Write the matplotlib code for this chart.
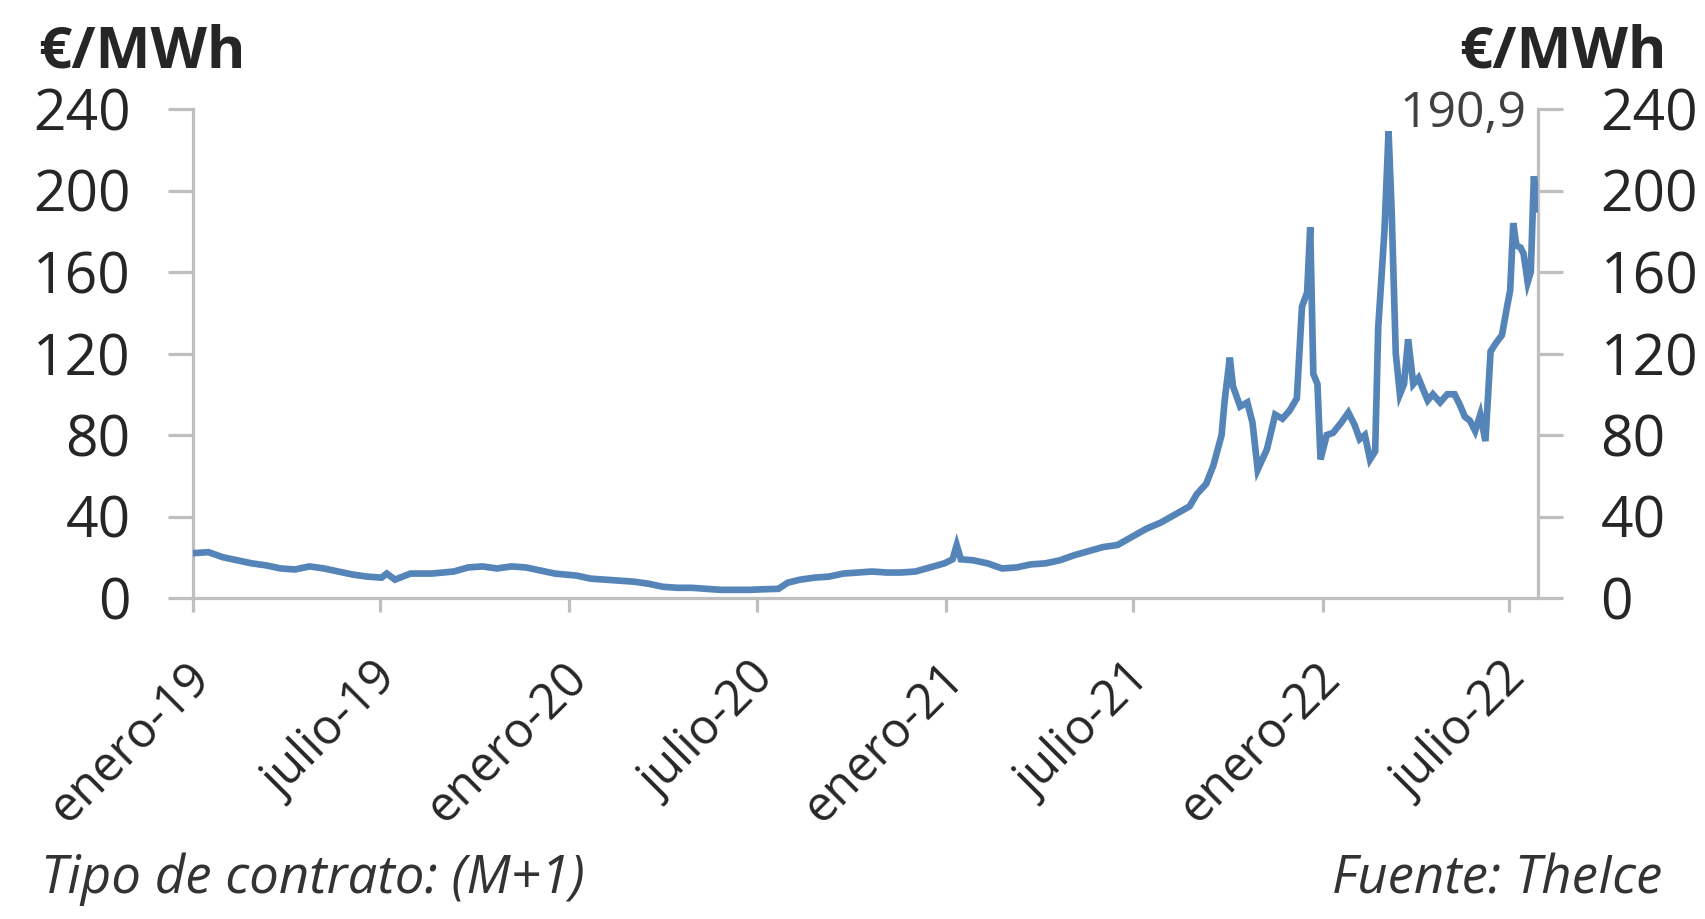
import matplotlib
matplotlib.use("Agg")
import matplotlib.pyplot as plt
import matplotlib.transforms as mtransforms
import pandas as pd

# ---------------- data ----------------
fechas = [
    "2019-01-01", "2019-01-16", "2019-01-30", "2019-02-13", "2019-02-27",
    "2019-03-13", "2019-03-27", "2019-04-10", "2019-04-24", "2019-05-08",
    "2019-05-22", "2019-06-05", "2019-06-19", "2019-07-03", "2019-07-08",
    "2019-07-16", "2019-07-31", "2019-08-21", "2019-09-11", "2019-09-25",
    "2019-10-09", "2019-10-23", "2019-11-06", "2019-11-20", "2019-12-04",
    "2019-12-18", "2020-01-08", "2020-01-22", "2020-02-05", "2020-02-19",
    "2020-03-04", "2020-03-18", "2020-04-01", "2020-04-15", "2020-04-29",
    "2020-05-13", "2020-05-27", "2020-06-10", "2020-06-24", "2020-07-08",
    "2020-07-22", "2020-07-31", "2020-08-12", "2020-08-26", "2020-09-09",
    "2020-09-23", "2020-10-07", "2020-10-21", "2020-11-04", "2020-11-18",
    "2020-12-02", "2020-12-16", "2020-12-30", "2021-01-07", "2021-01-11",
    "2021-01-15", "2021-01-27", "2021-02-10", "2021-02-24", "2021-03-10",
    "2021-03-24", "2021-04-07", "2021-04-21", "2021-05-05", "2021-05-19",
    "2021-06-02", "2021-06-16", "2021-06-30", "2021-07-14", "2021-07-28",
    "2021-08-11", "2021-08-25", "2021-09-01", "2021-09-10", "2021-09-17",
    "2021-09-25", "2021-09-28", "2021-10-03", "2021-10-06", "2021-10-13",
    "2021-10-20", "2021-10-25", "2021-10-30", "2021-11-08", "2021-11-16",
    "2021-11-23", "2021-11-30", "2021-12-07", "2021-12-12", "2021-12-17",
    "2021-12-20", "2021-12-23", "2021-12-27", "2021-12-30", "2022-01-05",
    "2022-01-11", "2022-01-19", "2022-01-26", "2022-02-01", "2022-02-06",
    "2022-02-11", "2022-02-16", "2022-02-21", "2022-02-24", "2022-03-02",
    "2022-03-06", "2022-03-09", "2022-03-13", "2022-03-17", "2022-03-21",
    "2022-03-25", "2022-03-30", "2022-04-04", "2022-04-08", "2022-04-13",
    "2022-04-18", "2022-04-25", "2022-05-02", "2022-05-09", "2022-05-14",
    "2022-05-19", "2022-05-24", "2022-05-29", "2022-06-03", "2022-06-08",
    "2022-06-13", "2022-06-18", "2022-06-24", "2022-06-29", "2022-07-02",
    "2022-07-05", "2022-07-08", "2022-07-12", "2022-07-15", "2022-07-19",
    "2022-07-22", "2022-07-25", "2022-07-29",
]
precio = [
    22.0, 22.5, 20.0, 18.5, 17.0,
    16.0, 14.5, 14.0, 15.5, 14.5,
    13.0, 11.5, 10.5, 10.0, 12.0,
    9.0, 12.0, 12.0, 13.0, 15.0,
    15.5, 14.5, 15.5, 15.0, 13.5,
    12.0, 11.0, 9.5, 9.0, 8.5,
    8.0, 7.0, 5.5, 5.0, 5.0,
    4.5, 4.0, 4.0, 4.0, 4.3,
    4.5, 7.5, 9.0, 10.0, 10.5,
    12.0, 12.5, 13.0, 12.5, 12.5,
    13.0, 15.0, 17.0, 19.0, 26.0,
    19.0, 18.5, 17.0, 14.5, 15.0,
    16.5, 17.0, 18.5, 21.0, 23.0,
    25.0, 26.0, 30.0, 34.0, 37.0,
    41.0, 45.0, 51.0, 56.0, 65.0,
    80.0, 97.0, 118.0, 104.0, 94.0,
    96.0, 86.0, 63.0, 73.0, 90.0,
    88.0, 92.0, 98.0, 143.0, 150.0,
    182.0, 110.0, 105.0, 68.0, 80.0,
    81.0, 86.0, 91.0, 85.0, 78.0,
    80.0, 68.0, 72.0, 133.0, 180.0,
    229.0, 190.0, 120.0, 100.0, 105.0,
    127.0, 105.0, 108.0, 103.0, 97.0,
    100.0, 96.0, 100.0, 100.0, 95.0,
    89.0, 87.0, 82.0, 90.0, 77.0,
    121.0, 125.0, 129.0, 143.0, 151.0,
    184.0, 173.0, 172.0, 169.0, 155.0,
    160.0, 207.0, 190.9,
]
etiquetas_x = ["enero-19", "julio-19", "enero-20", "julio-20",
               "enero-21", "julio-21", "enero-22", "julio-22"]
fechas_ticks = ["2019-01-01", "2019-07-01", "2020-01-01", "2020-07-01",
                "2021-01-01", "2021-07-01", "2022-01-01", "2022-07-01"]
ticks_y = [0, 40, 80, 120, 160, 200, 240]
unidad = "€/MWh"
ultimo_valor = "190,9"
nota_izq = "Tipo de contrato: (M+1)"
nota_der = "Fuente: TheIce"

# ---------------- figure ----------------
plt.rcParams['font.family'] = ['Open Sans', 'DejaVu Sans']
W, H = 1706, 919
fig = plt.figure(figsize=(W / 100, H / 100), dpi=100)
fig.patch.set_facecolor("white")

left, right, bottom, top = 193 / W, 1538 / W, 1 - 598 / H, 1 - 109 / H
ax = fig.add_axes([left, bottom, right - left, top - bottom])

x = pd.to_datetime(fechas)
ax.plot(x, precio, color="#5585b8", lw=4.8, solid_joinstyle="miter", zorder=3)

ax.set_xlim(pd.Timestamp("2019-01-01"), pd.Timestamp("2022-07-29"))
ax.set_ylim(0, 240)

grey = "#bfbfbf"
txt = "#262626"
for s in ["left", "right", "bottom"]:
    ax.spines[s].set_color(grey)
    ax.spines[s].set_linewidth(2.3)
ax.spines["top"].set_visible(False)

ax.set_yticks(ticks_y)
ax.set_yticklabels([str(v) for v in ticks_y])
ax.tick_params(axis="y", which="both", direction="out", length=18, width=2.3,
               color=grey, labelsize=41, labelcolor=txt, pad=27,
               left=True, right=True, labelleft=True, labelright=True)
for t in ax.yaxis.get_major_ticks():
    t.label2.set_horizontalalignment("left")

ax.set_xticks(pd.to_datetime(fechas_ticks))
ax.set_xticklabels(etiquetas_x, rotation=45, ha="right", va="top",
                   rotation_mode="anchor")
ax.tick_params(axis="x", direction="out", length=10, width=2.3, color=grey,
               labelsize=35, labelcolor=txt, pad=30)
offset = mtransforms.ScaledTranslation(-0.07, 0, fig.dpi_scale_trans)
for lab in ax.get_xticklabels():
    lab.set_transform(lab.get_transform() + offset)

# units
fig.text(38 / W, 1 - 67 / H, unidad, fontsize=42, fontweight="bold",
         color=txt, ha="left", va="baseline")
fig.text(1667 / W, 1 - 67 / H, unidad, fontsize=42, fontweight="bold",
         color=txt, ha="right", va="baseline")

# last value label
fig.text(1527 / W, 1 - 127 / H, ultimo_valor, fontsize=36, color="#404040",
         ha="right", va="baseline")

# footer notes
fig.text(41 / W, 1 - 893 / H, nota_izq, fontsize=38, style="italic",
         color="#333333", ha="left", va="baseline")
fig.text(1662 / W, 1 - 893 / H, nota_der, fontsize=38, style="italic",
         color="#333333", ha="right", va="baseline")

fig.savefig("out.png", dpi=100, facecolor="white")
